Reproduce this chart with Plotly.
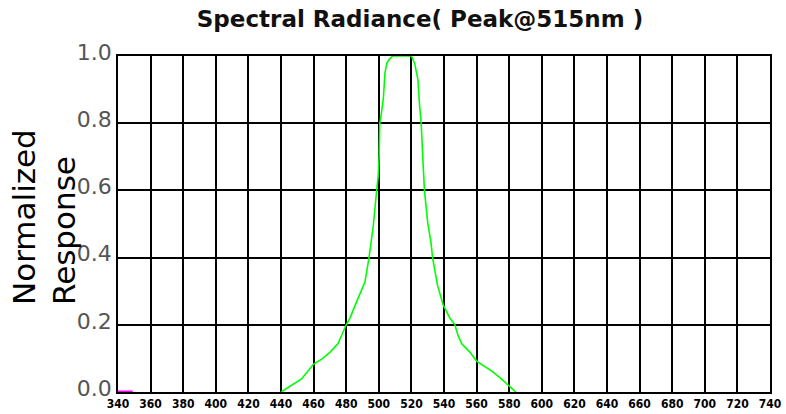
import plotly.graph_objects as go

# Wavelength (nm) and normalized response of the green curve
wavelength = [440, 445, 452.6, 460, 465, 470, 475, 480, 482.3, 486.4, 491.5, 494,
              496.6, 498.7, 499.6, 500.2, 500.6, 501.6, 502.8, 503.8, 505, 506.4,
              508.5, 515, 520, 522, 524, 525, 526, 527, 528, 530, 532, 533, 536,
              539.5, 543.6, 546.7, 548.5, 550.8, 556, 560, 565, 570, 575, 580, 584]
response = [0.0, 0.015, 0.039, 0.083, 0.098, 0.118, 0.144, 0.2, 0.22, 0.269, 0.327, 0.4,
            0.494, 0.6, 0.64, 0.7, 0.8, 0.83, 0.874, 0.95, 0.98, 0.99,
            1.0, 1.0, 1.0, 0.978, 0.93, 0.855, 0.8, 0.696, 0.6, 0.504, 0.445, 0.4, 0.318,
            0.259, 0.22, 0.2, 0.17, 0.144, 0.118, 0.092, 0.075, 0.06, 0.04, 0.018, 0.0]

# Short magenta baseline segment at the left edge
magenta_wl = [340, 349]
magenta_val = [0.0, 0.0]

x_ticks = list(range(340, 741, 20))
y_ticks = [0.0, 0.2, 0.4, 0.6, 0.8, 1.0]
y_tick_text = ["0.0", "0.2", "0.4", "0.6", "0.8", "1.0"]

fig = go.Figure()
fig.add_trace(go.Scatter(x=magenta_wl, y=magenta_val, mode="lines",
                         line=dict(color="#FF00FF", width=3), cliponaxis=False,
                         showlegend=False, hoverinfo="skip"))
fig.add_trace(go.Scatter(x=wavelength, y=response, mode="lines",
                         line=dict(color="#00FF00", width=1.6), cliponaxis=False,
                         showlegend=False))

fig.update_layout(
    width=786, height=414,
    margin=dict(l=118, r=16, t=56, b=22, autoexpand=False),
    paper_bgcolor="white", plot_bgcolor="white",
    title=dict(text="<b>Spectral Radiance( Peak@515nm )</b>",
               font=dict(family="DejaVu Sans", size=23, color="#111"),
               x=420 / 786, xref="container", xanchor="center",
               y=1 - 19 / 414, yref="container", yanchor="middle"),
    xaxis=dict(range=[340, 740], tickvals=x_ticks, ticktext=[str(v) for v in x_ticks],
               showgrid=True, gridcolor="black", gridwidth=1.6,
               showline=True, linecolor="black", linewidth=1.6, mirror=True,
               ticks="", zeroline=False, layer="below traces", automargin=False,
               tickfont=dict(family="DejaVu Sans Condensed", size=12, color="black",
                             weight="bold"),
               ticklabelstandoff=0),
    yaxis=dict(range=[0, 1], tickvals=y_ticks, ticktext=y_tick_text,
               showgrid=True, gridcolor="black", gridwidth=1.6,
               showline=True, linecolor="black", linewidth=1.6, mirror=True,
               ticks="", zeroline=False, layer="below traces", automargin=False,
               tickfont=dict(family="DejaVu Sans", size=22, color="#555"),
               ticklabelstandoff=0, ticklabelshift=-4),
    annotations=[dict(text="Normalized<br>Response", textangle=-90, align="left",
                      xref="paper", yref="paper", x=-118 / 652 + 4 / 652, xanchor="left",
                      y=(392 - 217) / 336, yanchor="middle", showarrow=False,
                      font=dict(family="DejaVu Sans", size=31, color="black"))],
)

fig.write_html("out.html", config={"displayModeBar": False},
               post_script="document.body.style.margin='0';document.body.style.padding='0';")
